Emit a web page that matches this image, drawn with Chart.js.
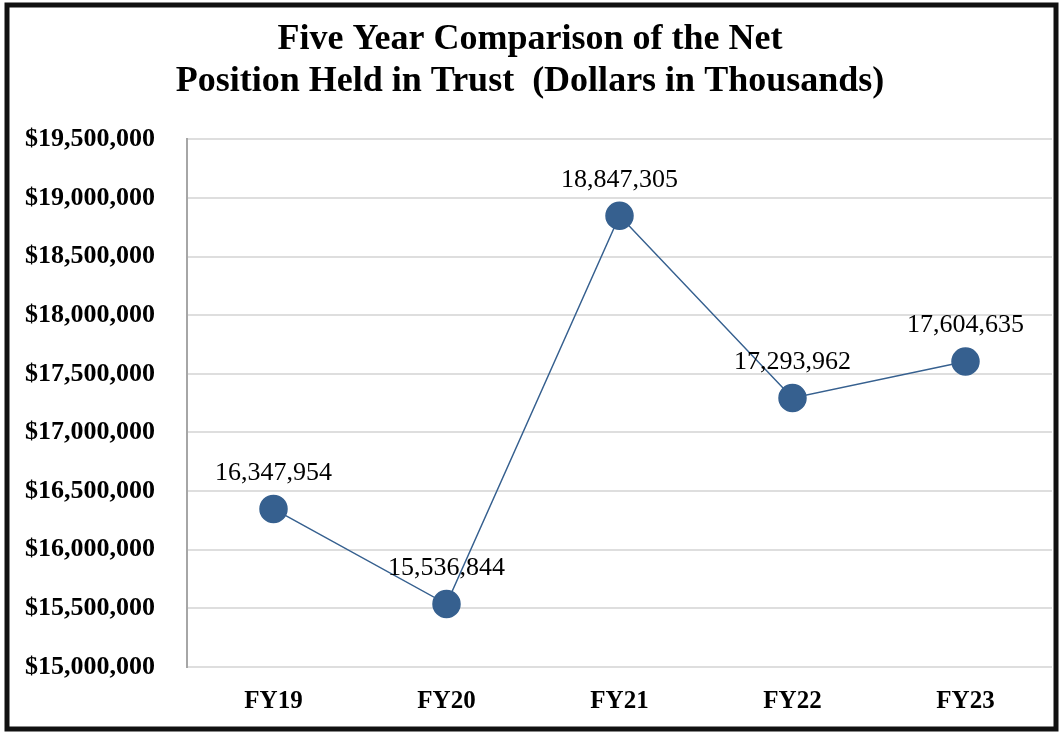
<!DOCTYPE html>
<html>
<head>
<meta charset="utf-8">
<script src="https://cdn.jsdelivr.net/npm/chart.js@4"></script>
<style>
  html, body { margin: 0; padding: 0; background: #fff; }
  #wrap { width: 1061px; height: 734px; position: relative; }
</style>
</head>
<body>
<div id="wrap"><canvas id="myChart" width="1061" height="734"></canvas></div>
<script>
'use strict';

// chart data
let years = ['FY19', 'FY20', 'FY21', 'FY22', 'FY23'];
let netPosition = [16347954, 15536844, 18847305, 17293962, 17604635];
let yMin = 15000000;
let yMax = 19500000;
let yStep = 500000;
let titleLines = ['Five Year Comparison of the Net', 'Position Held in Trust  (Dollars in Thousands)'];

const serif = '"Liberation Serif", "Times New Roman", serif';
const blue = '#36608f';

// black frame round the whole picture
const framePlugin = {
  id: 'frame',
  afterDraw(chart) {
    let ctx = chart.ctx;
    ctx.save();
    ctx.strokeStyle = '#111';
    ctx.lineWidth = 5;
    ctx.strokeRect(7, 5, 1049, 724);
    ctx.restore();
  }
};

// value labels above each point
const valueLabels = {
  id: 'valueLabels',
  afterDatasetsDraw(chart) {
    let ctx = chart.ctx;
    let meta = chart.getDatasetMeta(0);
    ctx.save();
    ctx.font = '26px ' + serif;
    ctx.fillStyle = '#000';
    ctx.textAlign = 'center';
    ctx.textBaseline = 'middle';
    meta.data.forEach(function (pt, i) {
      ctx.fillText(netPosition[i].toLocaleString('en-US'), pt.x, pt.y - 36);
    });
    ctx.restore();
  }
};

const data = {
  labels: years,
  datasets: [
    {
      label: 'Net Position',
      data: netPosition,
      borderColor: blue,
      backgroundColor: blue,
      borderWidth: 1.5,
      pointRadius: 13.5,
      pointHoverRadius: 13.5,
      pointBackgroundColor: blue,
      pointBorderColor: blue,
      tension: 0
    }
  ]
};

const config = {
  type: 'line',
  data: data,
  plugins: [valueLabels, framePlugin],
  options: {
    responsive: false,
    animation: false,
    layout: { autoPadding: false, padding: { left: 8, right: 9, top: 0, bottom: 6 } },
    plugins: {
      legend: { display: false },
      tooltip: { enabled: false },
      title: {
        display: true,
        text: titleLines,
        color: '#000',
        font: { family: serif, size: 36, weight: 'bold', lineHeight: 1.17 },
        padding: { top: 19, bottom: 36 }
      }
    },
    scales: {
      x: {
        offset: true,
        grid: { display: false },
        border: { display: false },
        ticks: {
          color: '#000',
          padding: 12,
          font: { family: serif, size: 25, weight: 'bold' }
        },
        afterFit(scale) { scale.height = 61; }
      },
      y: {
        min: yMin,
        max: yMax,
        grid: { color: '#dedede', lineWidth: 2, drawTicks: false },
        border: { display: true, color: '#a6a6a6', width: 2 },
        ticks: {
          stepSize: yStep,
          color: '#000',
          padding: 32,
          font: { family: serif, size: 26, weight: 'bold' },
          callback: function (v) { return '$' + v.toLocaleString('en-US'); }
        },
        afterFit(scale) { scale.width = 179; }
      }
    }
  }
};

const myChart = new Chart(document.getElementById('myChart'), config);
</script>
</body>
</html>
